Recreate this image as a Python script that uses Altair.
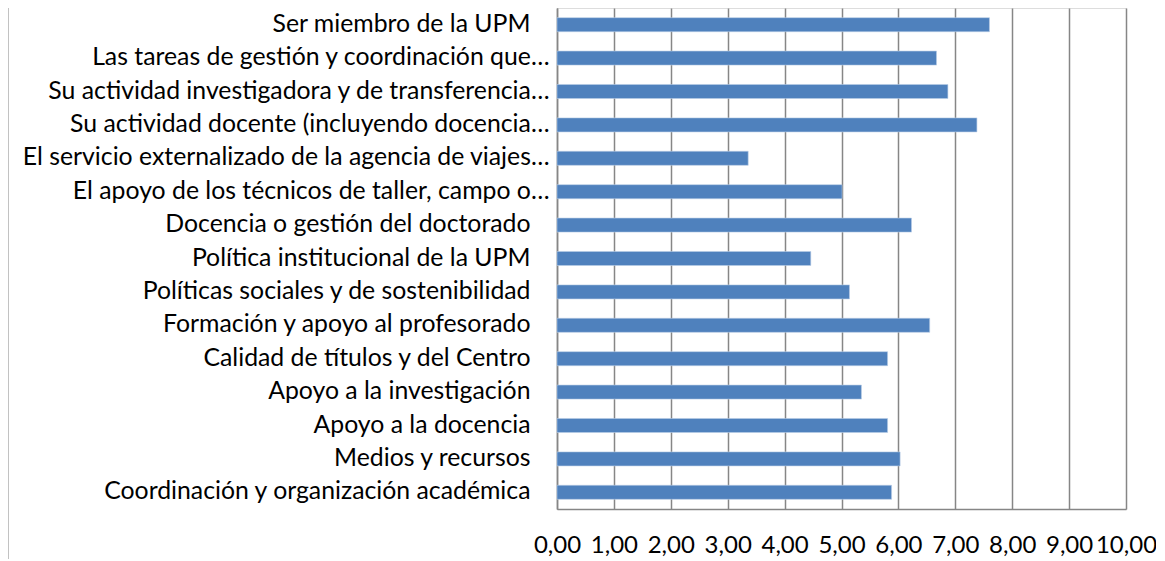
import altair as alt
import pandas as pd

categories = [
    "Ser miembro de la UPM",
    "Las tareas de gestión y coordinación que…",
    "Su actividad investigadora y de transferencia…",
    "Su actividad docente (incluyendo docencia…",
    "El servicio externalizado de la agencia de viajes…",
    "El apoyo de los técnicos de taller, campo o…",
    "Docencia o gestión del doctorado",
    "Política institucional de la UPM",
    "Políticas sociales y de sostenibilidad",
    "Formación y apoyo al profesorado",
    "Calidad de títulos y del Centro",
    "Apoyo a la investigación",
    "Apoyo a la docencia",
    "Medios y recursos",
    "Coordinación y organización académica",
]
values = [7.60, 6.67, 6.87, 7.38, 3.36, 5.01, 6.23, 4.46, 5.14, 6.55, 5.81, 5.35, 5.81, 6.03, 5.88]
x_ticks = [0, 1, 2, 3, 4, 5, 6, 7, 8, 9, 10]

df = pd.DataFrame({"cat": categories, "val": values})

bars = alt.Chart(df).mark_bar(color="#4F81BD", stroke="#B9CDE5", strokeWidth=0.6).encode(
    y=alt.Y("cat:N", sort=categories, title=None,
            scale=alt.Scale(paddingInner=0.58, paddingOuter=0.29),
            axis=alt.Axis(labelFont="Lato", labelFontSize=24.8, labelColor="#000000",
                          labelPadding={"condition": {"test": "indexof(datum.label, '…') >= 0", "value": 8}, "value": 27},
                          ticks=False, domainColor="#868686",
                          domainWidth=1.5, labelLimit=700)),
    x=alt.X("val:Q", title=None,
            scale=alt.Scale(domain=[0, 10], nice=False),
            axis=alt.Axis(values=x_ticks, labelExpr="replace(format(datum.value, '.2f'), '.', ',')",
                          labelFont="Lato", labelFontSize=24, labelColor="#000000",
                          labelPadding=24, ticks=False, grid=True, gridColor="#868686",
                          gridWidth=1.5, domainColor="#868686", domainWidth=1.5,
                          labelFlush=False, labelOverlap=False)),
)

border = alt.Chart(pd.DataFrame({"v": [0]})).mark_rule(color="#868686", strokeWidth=1).encode(
    x=alt.value(-549), y=alt.value(-8), y2=alt.value(553)
)

chart = (bars + border).properties(
    width=569, height=501,
    autosize=alt.AutoSizeParams(type="none"),
    padding={"left": 549, "top": 0, "right": 30, "bottom": 50},
).configure_view(stroke=None).configure(background="white")

chart.save("out.html", embed_options={"renderer": "svg", "actions": False})
